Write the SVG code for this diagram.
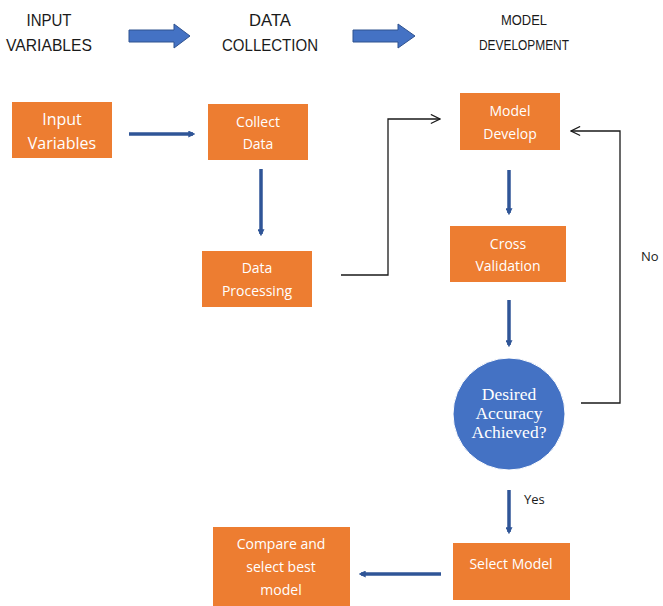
<svg xmlns="http://www.w3.org/2000/svg" width="663" height="606" viewBox="0 0 663 606">
<style>
.hdr{font-family:"Liberation Sans",Arial,sans-serif;font-size:17px;fill:#1a1a1a;text-anchor:middle}
.hdr2{font-family:"Liberation Sans",Arial,sans-serif;font-size:14px;fill:#1a1a1a;text-anchor:middle}
.box{fill:#ED7D31}
.bt{font-family:"Open Sans","Liberation Sans",sans-serif;font-size:14px;fill:#ffffff;text-anchor:middle}
.ct{font-family:"Liberation Serif","Times New Roman",serif;font-size:17.5px;fill:#ffffff;text-anchor:middle}
.lbl{font-family:"Open Sans","Liberation Sans",sans-serif;font-size:13px;fill:#1a1a1a}
.blue{stroke:#2F5597;stroke-width:3.5;fill:none;marker-end:url(#bh)}
.thin{stroke:#1a1a1a;stroke-width:1.3;fill:none;marker-end:url(#oh)}
.big{fill:#4472C4;stroke:#2F528F;stroke-width:1}
</style>
<defs>
<marker id="bh" viewBox="0 0 6 6" refX="4" refY="3" markerWidth="2" markerHeight="2" orient="auto" markerUnits="strokeWidth">
<path d="M0,0 L6,3 L0,6 z" fill="#2F5597"/>
</marker>
<marker id="oh" viewBox="0 0 12 12" refX="11" refY="6" markerWidth="11" markerHeight="11" orient="auto" markerUnits="userSpaceOnUse">
<path d="M1,1 L11,6 L1,11" fill="none" stroke="#1a1a1a" stroke-width="1.3"/>
</marker>
</defs>
<rect width="663" height="606" fill="#ffffff"/>
<g id="header">
<text class="hdr" x="49" y="26" textLength="45" lengthAdjust="spacingAndGlyphs">INPUT</text>
<text class="hdr" x="49" y="51" textLength="86" lengthAdjust="spacingAndGlyphs">VARIABLES</text>
<path class="big" d="M129,30 L174,30 L174,24 L190,36 L174,48 L174,42 L129,42 z"/>
<text class="hdr" x="270" y="26" textLength="42" lengthAdjust="spacingAndGlyphs">DATA</text>
<text class="hdr" x="270" y="51" textLength="96" lengthAdjust="spacingAndGlyphs">COLLECTION</text>
<path class="big" d="M353,30 L398,30 L398,24 L415,36 L398,48 L398,42 L353,42 z"/>
<text class="hdr2" x="524" y="25" textLength="46" lengthAdjust="spacingAndGlyphs">MODEL</text>
<text class="hdr2" x="524" y="50" textLength="90" lengthAdjust="spacingAndGlyphs">DEVELOPMENT</text>
</g>
<g id="connectors">
<line class="blue" x1="129" y1="134" x2="193" y2="134"/>
<line class="blue" x1="261" y1="169" x2="261" y2="234"/>
<line class="blue" x1="509" y1="170" x2="509" y2="213"/>
<line class="blue" x1="509" y1="300" x2="509" y2="345"/>
<line class="blue" x1="509" y1="490" x2="509" y2="532"/>
<line class="blue" x1="441" y1="574" x2="361" y2="574"/>
<polyline class="thin" points="341,275 388,275 388,119 440,119"/>
<polyline class="thin" points="581,403 620,403 620,131 571,131"/>
<text class="lbl" x="524" y="504">Yes</text>
<text class="lbl" x="641" y="261">No</text>
</g>
<g id="input-variables">
<rect class="box" x="12" y="102" width="100" height="56"/>
<text class="bt" x="62" y="125" style="font-size:16px">Input</text>
<text class="bt" x="62" y="149" style="font-size:16px">Variables</text>
</g>
<g id="collect-data">
<rect class="box" x="208" y="104" width="100" height="56"/>
<text class="bt" x="258" y="127">Collect</text>
<text class="bt" x="258" y="149">Data</text>
</g>
<g id="data-processing">
<rect class="box" x="202" y="251" width="110" height="56"/>
<text class="bt" x="257" y="273">Data</text>
<text class="bt" x="257" y="296">Processing</text>
</g>
<g id="model-develop">
<rect class="box" x="460" y="93" width="100" height="57"/>
<text class="bt" x="510" y="116">Model</text>
<text class="bt" x="510" y="139">Develop</text>
</g>
<g id="cross-validation">
<rect class="box" x="450" y="226" width="116" height="56"/>
<text class="bt" x="508" y="249">Cross</text>
<text class="bt" x="508" y="271">Validation</text>
</g>
<g id="desired-accuracy">
<circle cx="509" cy="414" r="56" fill="#4472C4" stroke="#ffffff" stroke-width="1"/>
<text class="ct" x="509" y="400">Desired</text>
<text class="ct" x="509" y="419">Accuracy</text>
<text class="ct" x="509" y="438">Achieved?</text>
</g>
<g id="select-model">
<rect class="box" x="453" y="543" width="117" height="57"/>
<text class="bt" x="511" y="569">Select Model</text>
</g>
<g id="compare-select">
<rect class="box" x="213" y="527" width="137" height="79"/>
<text class="bt" x="281" y="549">Compare and</text>
<text class="bt" x="281" y="572">select best</text>
<text class="bt" x="281" y="595">model</text>
</g>
</svg>
